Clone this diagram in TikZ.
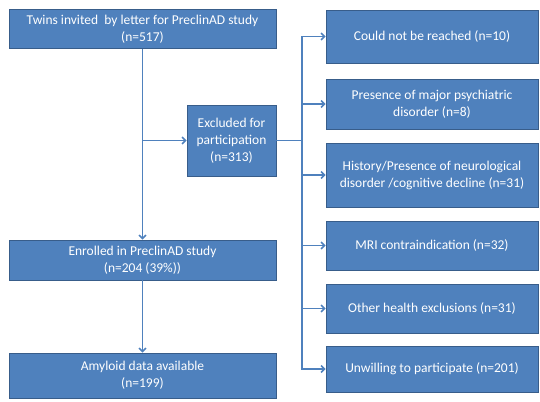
\documentclass[tikz,border=0pt]{standalone}
\usepackage{fontspec}
\setmainfont{Carlito}
\usepackage{xcolor}
\usetikzlibrary{positioning,arrows.meta}
\definecolor{boxblue}{HTML}{4F81BD}
\definecolor{boxedge}{HTML}{385D8A}

\begin{document}
\begin{tikzpicture}[x=1pt,y=-1pt,>={Straight Barb[length=3.5pt,width=7pt]},
                    semithick,
                    every node/.style={font=\fontsize{13.5}{17}\selectfont,text=white,align=center},
                    flowbox/.style={draw=boxedge,fill=boxblue,inner sep=2pt},
                    link/.style={draw=boxblue,line width=1.6pt}]
    \useasboundingbox (0,0) rectangle (540,401);
    % left column
    \node[flowbox,minimum width=267pt,minimum height=39pt] (twins) at (142.5,29) {Twins invited~ by letter for PreclinAD study\\(n=517)};
    \node[flowbox,minimum width=89pt,minimum height=71pt] (excl) at (231.5,140.5) {Excluded for\\participation\\(n=313)};
    \node[flowbox,minimum width=267pt,minimum height=40pt] (enrol) at (142.5,260) {Enrolled in PreclinAD study\\(n=204 (39\%))};
    \node[flowbox,minimum width=267pt,minimum height=45pt] (amyl) at (142.5,375.5) {Amyloid data available\\(n=199)};
    % reasons
    \node[flowbox,minimum width=212pt,minimum height=53pt] (r1) at (432,36.5) {Could not be reached (n=10)};
    \node[flowbox,minimum width=212pt,minimum height=50pt] (r2) at (432,104) {Presence of major psychiatric\\disorder (n=8)};
    \node[flowbox,minimum width=212pt,minimum height=64pt] (r3) at (432,175) {History/Presence of neurological\\disorder /cognitive decline (n=31)};
    \node[flowbox,minimum width=212pt,minimum height=49pt] (r4) at (432,245.5) {MRI contraindication (n=32)};
    \node[flowbox,minimum width=212pt,minimum height=49pt] (r5) at (432,308.5) {Other health exclusions (n=31)};
    \node[flowbox,minimum width=212pt,minimum height=46pt] (r6) at (432,369) {Unwilling to participate (n=201)};

    \coordinate (split) at (twins.south |- excl.west);
    \coordinate (bus) at (302,140.5);

    \draw[link,->] (twins) -- (enrol);
    \draw[link,->] (split) -- (excl);
    \draw[link,->] (enrol) -- (amyl);
    \draw[link] (excl) -- (bus);
    \foreach \r in {r1,r2,r3,r4,r5,r6}
        \draw[link,->] (bus) |- (\r.west);
\end{tikzpicture}
\end{document}
